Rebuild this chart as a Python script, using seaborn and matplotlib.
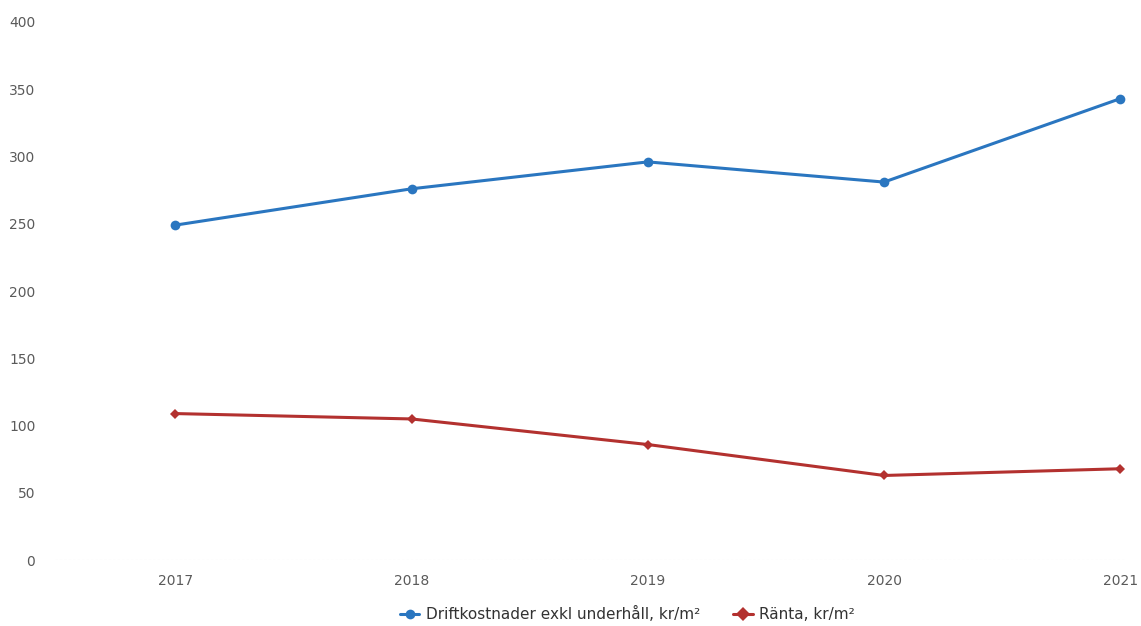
import seaborn as sns
import pandas as pd
import matplotlib.pyplot as plt

# values
years = ["2017", "2018", "2019", "2020", "2021"]
drift = [249, 276, 296, 281, 343]
ranta = [109, 105, 86, 63, 68]
labels = ["Driftkostnader exkl underhåll, kr/m²", "Ränta, kr/m²"]
colors = ["#2a76c0", "#b3312f"]

df = pd.DataFrame({
    "year": years * 2,
    "value": drift + ranta,
    "series": [labels[0]] * len(years) + [labels[1]] * len(years),
})

sns.set_style("white")
plt.rcParams["font.family"] = ["DejaVu Sans"]

fig = plt.figure(figsize=(11.41, 6.26), dpi=100)
ax = fig.add_axes([0.048, 0.105, 0.938, 0.86])

sns.lineplot(data=df, x="year", y="value", hue="series", style="series",
             markers={labels[0]: "o", labels[1]: "D"}, dashes=False,
             palette=dict(zip(labels, colors)), linewidth=2.2,
             markersize=7, markeredgewidth=0, ax=ax)
# diamond a bit smaller
ax.lines[1].set_markersize(5)

ax.set_ylim(0, 400)
ax.set_xlim(-0.51, 4.02)
ax.set_yticks(range(0, 401, 50))
ax.set_xlabel("")
ax.set_ylabel("")
for s in ax.spines.values():
    s.set_visible(False)
ax.axhline(0, color="#dddddd", lw=0.8, ls=(0, (2, 2)), zorder=0)
ax.tick_params(axis="both", length=0, labelsize=10, labelcolor="#5a5a5a")
ax.tick_params(axis="y", pad=14)
ax.tick_params(axis="x", pad=10)

handles, lbls = ax.get_legend_handles_labels()
ax.legend(handles, lbls, loc="upper center", bbox_to_anchor=(0.535, -0.06),
          ncol=2, frameon=False, fontsize=11, handlelength=1.3,
          handletextpad=0.4, columnspacing=2.2, labelcolor="#333333")

fig.savefig("out.png", dpi=100)
